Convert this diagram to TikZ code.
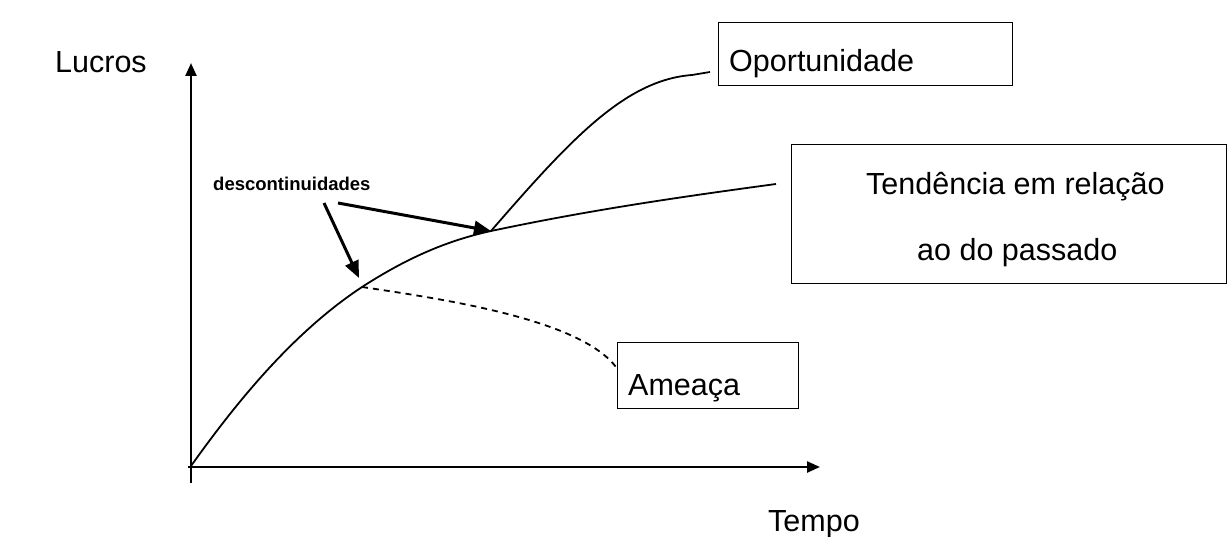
\documentclass[tikz,border=0pt]{standalone}
\usepackage{fontspec}
\setmainfont{Liberation Sans}
\usetikzlibrary{arrows.meta}
\begin{document}
\begin{tikzpicture}[x=1pt,y=-1pt,
  txt/.style={inner sep=0pt,anchor=base west,font=\fontsize{30.5}{36}\selectfont},
  small/.style={inner sep=0pt,anchor=base west,font=\fontsize{18.5}{22}\selectfont\bfseries},
  box/.style={draw,line width=1.4pt,inner sep=0pt,anchor=north west},
  axis/.style={line width=2.4pt,-{Triangle[length=13pt,width=11pt]}},
  curve/.style={line width=1.8pt},
  pointer/.style={line width=3pt,-{Triangle[length=17pt,width=14pt]}}]
\useasboundingbox (0,0) rectangle (1229,537);

% axes
\coordinate (ybot) at (191,483);
\coordinate (ytop) at (191,63);
\coordinate (xleft) at (188,467);
\coordinate (xright) at (820,467);
\draw[axis] (ybot) -- (ytop);
\draw[axis] (xleft) -- (xright);

% axis labels
\node[txt] (lucros) at (55,73) {Lucros};
\node[txt] (tempo) at (768,531) {Tempo};

% key points on the trend curve
\coordinate (O) at (191,466);
\coordinate (d1) at (362,287);
\coordinate (d2) at (491,231);
\coordinate (tend) at (776,184);
\coordinate (opend) at (710,72);
\coordinate (amend) at (616,367);

% trend curve
\draw[curve] (O) .. controls (245,390) and (300,328) .. (d1)
             .. controls (410,256) and (450,240) .. (d2)
             .. controls (590,210) and (680,197) .. (tend);
% opportunity branch
\draw[curve] (d2) .. controls (570,140) and (625,80) .. (692,75) -- (opend);
% threat branch
\draw[curve,dashed,dash pattern=on 6pt off 5pt] (d1) .. controls (450,300) and (580,320) .. (amend);

% boxes
\node[box,minimum width=294pt,minimum height=63pt] (opbox) at (718,22) {};
\node[box,minimum width=435pt,minimum height=139pt] (tendbox) at (791,144) {};
\node[box,minimum width=181pt,minimum height=66pt] (ambox) at (617,342) {};

\node[txt] (optxt) at (729,72) {Oportunidade};
\node[txt] (tendtxt1) at (866,195) {Tendência em relação};
\node[txt] (tendtxt2) at (917,261) {ao do passado};
\node[txt] (amtxt) at (628,395) {Ameaça};

% discontinuities
\node[small] (desc) at (213,191) {descontinuidades};
\coordinate (a1s) at (338,203);
\coordinate (a2s) at (324,203);
\draw[pointer] (a1s) -- (d2);
\draw[pointer] (a2s) -- (359,278);
\end{tikzpicture}
\end{document}
